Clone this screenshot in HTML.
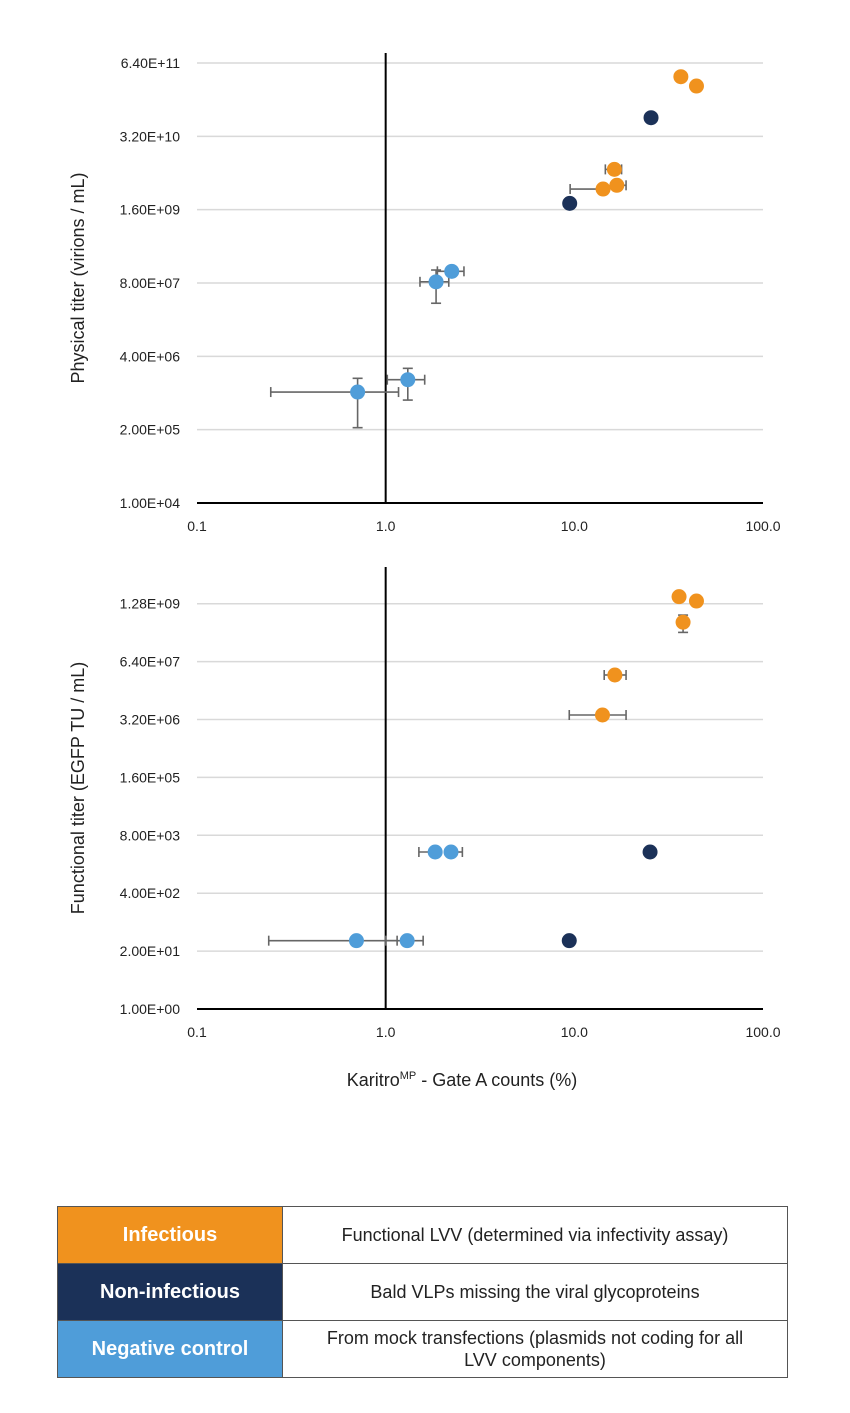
<!DOCTYPE html>
<html><head><meta charset="utf-8"><style>
body{margin:0;background:#fff;width:850px;height:1413px;overflow:hidden;font-family:"Liberation Sans",sans-serif}
svg{position:absolute;left:0;top:0}
#legend{position:absolute;left:57px;top:1206px;width:731px;border-collapse:collapse;font-family:"Liberation Sans",sans-serif}
#legend td{border:1px solid #555;height:56px;padding:0;text-align:center}
.k{width:224px;color:#fff;font-weight:bold;font-size:20px}
.v{font-size:18px;color:#222;line-height:22px}
</style></head><body>
<svg id="chart" width="850" height="1413" xmlns="http://www.w3.org/2000/svg"></svg>
<table id="legend">
<tr><td class="k" style="background:#F0921E">Infectious</td><td class="v">Functional LVV (determined via infectivity assay)</td></tr>
<tr><td class="k" style="background:#1B3158">Non-infectious</td><td class="v">Bald VLPs missing the viral glycoproteins</td></tr>
<tr><td class="k" style="background:#4F9DD9">Negative control</td><td class="v">From mock transfections (plasmids not coding for all<br>LVV components)</td></tr>
</table>
<script>
const xTicks=[0.1,1,10,100];
const xTickLabels=["0.1","1.0","10.0","100.0"];
const topTickLabels=["1.00E+04","2.00E+05","4.00E+06","8.00E+07","1.60E+09","3.20E+10","6.40E+11"];
const botTickLabels=["1.00E+00","2.00E+01","4.00E+02","8.00E+03","1.60E+05","3.20E+06","6.40E+07","1.28E+09"];
const topX=[36.7,44.4,16.3,14.2,16.8,25.5,9.45,2.24,1.85,1.31,0.71];
const topY=[3.66e11,2.5e11,8.3e9,3.72e9,4.33e9,6.85e10,2.07e9,1.29e8,8.4e7,1.54e6,9.3e5];
const topG=["i","i","i","i","i","n","n","c","c","c","c"];
const topXlo=[null,null,14.6,9.5,null,null,null,1.88,1.52,1.02,0.246];
const topXhi=[null,null,17.8,null,18.8,null,null,2.6,2.16,1.61,1.17];
const topYlo=[null,null,null,null,null,null,null,null,3.5e7,6.7e5,2.17e5];
const topYhi=[null,null,null,null,null,null,null,null,1.36e8,2.45e6,1.63e6];
const botX=[35.9,44.4,37.7,16.4,14.1,25.2,9.4,1.83,2.22,0.70,1.30];
const botY=[1.84e9,1.47e9,4.9e8,3.2e7,4.04e6,3.37e3,34.3,3.37e3,3.37e3,34.3,34.3];
const botG=["i","i","i","i","i","n","n","c","c","c","c"];
const botXlo=[null,null,null,14.4,9.4,null,null,1.5,null,0.24,1.0];
const botXhi=[null,null,null,18.8,18.8,null,null,null,2.55,1.15,1.58];
const botYlo=[null,null,2.9e8,2.6e7,null,null,null,null,null,null,null];
const botYhi=[null,null,7.1e8,4.0e7,null,null,null,null,null,null,null];
const colors={i:"#F0921E",n:"#1B3158",c:"#4F9DD9"};
const svg=document.getElementById('chart');
const NS="http://www.w3.org/2000/svg";
function mk(t,a,p){const e=document.createElementNS(NS,t);for(const k in a)e.setAttribute(k,a[k]);(p||svg).appendChild(e);return e;}
const xL=197,xR=763;
function xs(v){return xL+(Math.log10(v)+1)/3*(xR-xL);}
function drawChart(name,yBottom,step,base,labels,X,Y,G,XL,XH,YL,YH,topPx,title){
  const g=mk('g',{});
  
  
  const ys=v=>yBottom-Math.log(v/base)/Math.log(20)*step;
  labels.forEach((l,i)=>{
    const y=yBottom-i*step;
    if(i>0){const gl=mk('line',{x1:xL,x2:xR,y1:y,y2:y,stroke:'#d9d9d9','stroke-width':1.5},g);
      
      }
    const t=mk('text',{x:180,y:y+5,'text-anchor':'end','font-size':14,fill:'#222'},g);
    
    
    t.textContent=l;
  });
  xTicks.forEach((v,i)=>{
    const t=mk('text',{x:xs(v),y:yBottom+28,'text-anchor':'middle','font-size':14,fill:'#222'},g);
    
    
    t.textContent=xTickLabels[i];
  });
  const xa=mk('line',{x1:xL,x2:xR,y1:yBottom,y2:yBottom,stroke:'#000','stroke-width':2},g);
  
  
  const va=mk('line',{x1:xs(1),x2:xs(1),y1:topPx,y2:yBottom,stroke:'#000','stroke-width':2},g);
  
  
  const cy=(topPx+yBottom)/2;
  const yt=mk('text',{x:0,y:0,transform:`translate(84,${cy}) rotate(-90)`,'text-anchor':'middle','font-size':18,fill:'#222'},g);
  
  
  yt.textContent=title;
  X.forEach((xv,i)=>{
    const px=xs(xv),py=ys(Y[i]);
    const eb=mk('g',{stroke:'#666','stroke-width':1.6},g);
    
    
    const lo=XL[i]!=null?xs(XL[i]):null,hi=XH[i]!=null?xs(XH[i]):null;
    if(lo!=null){mk('line',{x1:lo,x2:px,y1:py,y2:py},eb);mk('line',{x1:lo,x2:lo,y1:py-5,y2:py+5},eb);}
    if(hi!=null){mk('line',{x1:px,x2:hi,y1:py,y2:py},eb);mk('line',{x1:hi,x2:hi,y1:py-5,y2:py+5},eb);}
    if(YL[i]!=null){const a=ys(YL[i]);mk('line',{x1:px,x2:px,y1:py,y2:a},eb);mk('line',{x1:px-5,x2:px+5,y1:a,y2:a},eb);}
    if(YH[i]!=null){const a=ys(YH[i]);mk('line',{x1:px,x2:px,y1:py,y2:a},eb);mk('line',{x1:px-5,x2:px+5,y1:a,y2:a},eb);}
  });
  X.forEach((xv,i)=>{
    const c=mk('circle',{cx:xs(xv),cy:ys(Y[i]),r:7.5,fill:colors[G[i]]},g);
    
    
  });
}
drawChart('physical-titer-chart',503,73.33,1e4,topTickLabels,topX,topY,topG,topXlo,topXhi,topYlo,topYhi,53,'Physical titer (virions / mL)');
drawChart('functional-titer-chart',1009,57.9,1,botTickLabels,botX,botY,botG,botXlo,botXhi,botYlo,botYhi,567,'Functional titer (EGFP TU / mL)');
const xt=mk('text',{x:462,y:1086,'text-anchor':'middle','font-size':18,fill:'#222'});


xt.innerHTML='Karitro<tspan font-size="11" dy="-7">MP</tspan><tspan dy="7"> - Gate A counts (%)</tspan>';
</script>
</body></html>
